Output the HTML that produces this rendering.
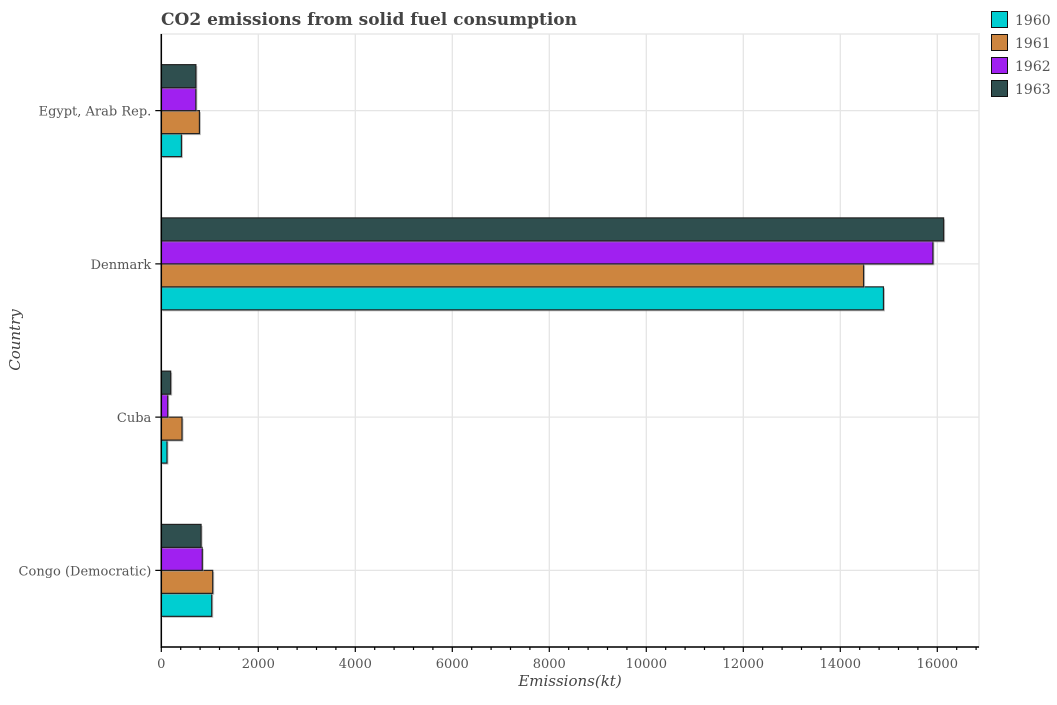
<!DOCTYPE html>
<html><head><meta charset="utf-8"><style>
body{margin:0;background:#fff;}
svg text{font-family:"DejaVu Serif","Liberation Serif",serif;}
</style></head><body>
<svg id="chart" width="1057" height="700" xmlns="http://www.w3.org/2000/svg">
<text x="161" y="25" font-size="17" font-weight="bold" fill="#444">CO2 emissions from solid fuel consumption</text>
<g id="grid"></g><g id="bars"></g><g id="axes"></g>
<text x="570" y="686" font-size="15" font-style="italic" fill="#444" text-anchor="middle">Emissions(kt)</text>
<text transform="translate(20,340) rotate(-90)" font-size="15" font-style="italic" fill="#444" text-anchor="middle">Country</text>
<g id="legend"></g>
</svg>
<script>
const categories = ["Congo (Democratic)", "Cuba", "Denmark", "Egypt, Arab Rep."];
const years = ["1960", "1961", "1962", "1963"];
const v1960 = [1040, 117, 14890, 415];
const v1961 = [1060, 427, 14480, 786];
const v1962 = [845, 132, 15910, 713];
const v1963 = [820, 193, 16130, 713];
const xTicks = [0, 2000, 4000, 6000, 8000, 10000, 12000, 14000, 16000];
const colors = ["#00CED1", "#CD853F", "#A020F0", "#2F4F4F"];
const series = [v1960, v1961, v1962, v1963];

const NS = "http://www.w3.org/2000/svg";
const L = 161.3, R = 979, T = 34, B = 647, xMax = 16860;
const x = v => L + v / xMax * (R - L);
const band = (B - T) / categories.length;
const yc = i => B - band * (i + 0.5);
function mk(tag, attrs, parent){const e=document.createElementNS(NS,tag);for(const k in attrs)e.setAttribute(k,attrs[k]);document.getElementById(parent).appendChild(e);return e;}

mk('rect',{x:L,y:T,width:R-L,height:B-T,fill:'none',stroke:'#eeeeee','stroke-width':2},'grid');
xTicks.forEach(t=>{
  const g=mk('line',{x1:x(t),x2:x(t),y1:T,y2:B,stroke:'#e5e5e5','stroke-width':1.3},'grid');
  
  
});
categories.forEach((c,i)=>{
  const g=mk('line',{x1:L,x2:R,y1:yc(i),y2:yc(i),stroke:'#e5e5e5','stroke-width':1.3},'grid');
  
  
});
const bh = band*0.6/4;
categories.forEach((c,i)=>{
  series.forEach((s,k)=>{
    const top = yc(i) + band*0.3 - bh*(k+1);
    const sh=mk('rect',{x:L+1.5,y:top+1.5,width:x(s[i])-L,height:bh,fill:'#999',opacity:0.6},'bars');
    
    
    const r=mk('rect',{x:L,y:top,width:x(s[i])-L,height:bh,fill:colors[k],stroke:'#222','stroke-width':1.2},'bars');
    
    
  });
});
const ax=mk('line',{x1:L,x2:L,y1:T,y2:B+1,stroke:'#000','stroke-width':1.5},'axes');


const bx=mk('line',{x1:L,x2:R,y1:B,y2:B,stroke:'#000','stroke-width':1.5},'axes');


for(let v=0;v<=xMax;v+=400){
  const major = v%2000===0;
  const tk=mk('line',{x1:x(v),x2:x(v),y1:B,y2:B+(major?5:3),stroke:'#000','stroke-width':1.2},'axes');
  
  
}
xTicks.forEach(t=>{
  const tx=mk('text',{x:x(t),y:B+21,'font-size':13,fill:'#555','text-anchor':'middle'},'axes');
  tx.textContent=t;
  
  
});
categories.forEach((c,i)=>{
  const tk=mk('line',{x1:L-6,x2:L,y1:yc(i),y2:yc(i),stroke:'#000','stroke-width':1.2},'axes');
  
  
  const tx=mk('text',{x:L-10,y:yc(i)+5,'font-size':13,fill:'#555','text-anchor':'end'},'axes');
  tx.textContent=c;
  
  
});
years.forEach((y,k)=>{
  const r=mk('rect',{x:991.5,y:11.5+k*23,width:16,height:16,fill:colors[k],stroke:'#111','stroke-width':1},'legend');
  
  
  const t=mk('text',{x:1015,y:25+k*23,'font-size':14,fill:'#555'},'legend');
  t.textContent=y;
  
  
});
</script>
</body></html>
